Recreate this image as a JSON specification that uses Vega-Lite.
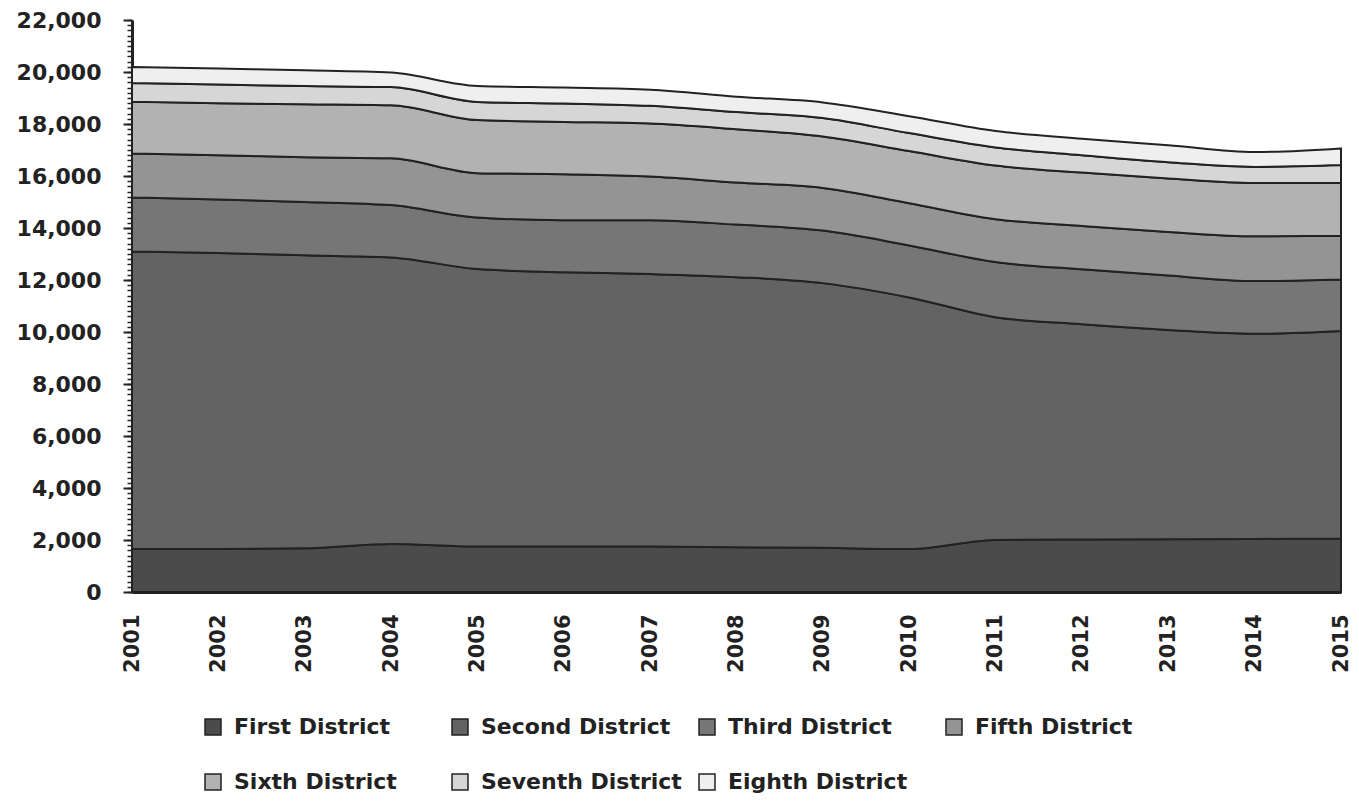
{
  "$schema": "https://vega.github.io/schema/vega-lite/v6.json",
  "width": 1209,
  "height": 572,
  "autosize": {"type": "none"},
  "padding": {"left": 132, "top": 20, "right": 18, "bottom": 209},
  "background": "white",
  "config": {
    "view": {"stroke": null},
    "font": "DejaVu Sans",
    "axis": {"labelFont": "DejaVu Sans", "labelFontWeight": "bold", "labelColor": "#222", "grid": false, "title": null},
    "legend": {
      "orient": "none", "legendX": 70, "legendY": 696, "direction": "horizontal", "columns": 4,
      "gridAlign": "all", "columnPadding": 14, "rowPadding": 33, "symbolType": "square", "symbolSize": 256,
      "labelFontSize": 22, "labelFont": "DejaVu Sans", "labelFontWeight": "bold", "labelColor": "#222",
      "symbolStrokeColor": "#222", "symbolStrokeWidth": 1.5, "symbolOpacity": 1, "labelOffset": 10, "labelLimit": 0
    }
  },
  "data": {"values": [
    {"year":"2001","district":"First District","k":1,"value":1650},
    {"year":"2002","district":"First District","k":1,"value":1650},
    {"year":"2003","district":"First District","k":1,"value":1680},
    {"year":"2004","district":"First District","k":1,"value":1850},
    {"year":"2005","district":"First District","k":1,"value":1750},
    {"year":"2006","district":"First District","k":1,"value":1750},
    {"year":"2007","district":"First District","k":1,"value":1750},
    {"year":"2008","district":"First District","k":1,"value":1720},
    {"year":"2009","district":"First District","k":1,"value":1700},
    {"year":"2010","district":"First District","k":1,"value":1650},
    {"year":"2011","district":"First District","k":1,"value":2000},
    {"year":"2012","district":"First District","k":1,"value":2020},
    {"year":"2013","district":"First District","k":1,"value":2030},
    {"year":"2014","district":"First District","k":1,"value":2040},
    {"year":"2015","district":"First District","k":1,"value":2060},
    {"year":"2001","district":"Second District","k":2,"value":11450},
    {"year":"2002","district":"Second District","k":2,"value":11390},
    {"year":"2003","district":"Second District","k":2,"value":11270},
    {"year":"2004","district":"Second District","k":2,"value":11020},
    {"year":"2005","district":"Second District","k":2,"value":10670},
    {"year":"2006","district":"Second District","k":2,"value":10550},
    {"year":"2007","district":"Second District","k":2,"value":10480},
    {"year":"2008","district":"Second District","k":2,"value":10390},
    {"year":"2009","district":"Second District","k":2,"value":10180},
    {"year":"2010","district":"Second District","k":2,"value":9680},
    {"year":"2011","district":"Second District","k":2,"value":8570},
    {"year":"2012","district":"Second District","k":2,"value":8280},
    {"year":"2013","district":"Second District","k":2,"value":8050},
    {"year":"2014","district":"Second District","k":2,"value":7890},
    {"year":"2015","district":"Second District","k":2,"value":7980},
    {"year":"2001","district":"Third District","k":3,"value":2070},
    {"year":"2002","district":"Third District","k":3,"value":2060},
    {"year":"2003","district":"Third District","k":3,"value":2050},
    {"year":"2004","district":"Third District","k":3,"value":2010},
    {"year":"2005","district":"Third District","k":3,"value":1980},
    {"year":"2006","district":"Third District","k":3,"value":2000},
    {"year":"2007","district":"Third District","k":3,"value":2070},
    {"year":"2008","district":"Third District","k":3,"value":2020},
    {"year":"2009","district":"Third District","k":3,"value":2020},
    {"year":"2010","district":"Third District","k":3,"value":2000},
    {"year":"2011","district":"Third District","k":3,"value":2120},
    {"year":"2012","district":"Third District","k":3,"value":2110},
    {"year":"2013","district":"Third District","k":3,"value":2090},
    {"year":"2014","district":"Third District","k":3,"value":2030},
    {"year":"2015","district":"Third District","k":3,"value":1980},
    {"year":"2001","district":"Fifth District","k":4,"value":1700},
    {"year":"2002","district":"Fifth District","k":4,"value":1700},
    {"year":"2003","district":"Fifth District","k":4,"value":1720},
    {"year":"2004","district":"Fifth District","k":4,"value":1800},
    {"year":"2005","district":"Fifth District","k":4,"value":1710},
    {"year":"2006","district":"Fifth District","k":4,"value":1770},
    {"year":"2007","district":"Fifth District","k":4,"value":1680},
    {"year":"2008","district":"Fifth District","k":4,"value":1620},
    {"year":"2009","district":"Fifth District","k":4,"value":1640},
    {"year":"2010","district":"Fifth District","k":4,"value":1620},
    {"year":"2011","district":"Fifth District","k":4,"value":1650},
    {"year":"2012","district":"Fifth District","k":4,"value":1670},
    {"year":"2013","district":"Fifth District","k":4,"value":1680},
    {"year":"2014","district":"Fifth District","k":4,"value":1720},
    {"year":"2015","district":"Fifth District","k":4,"value":1680},
    {"year":"2001","district":"Sixth District","k":5,"value":1990},
    {"year":"2002","district":"Sixth District","k":5,"value":2000},
    {"year":"2003","district":"Sixth District","k":5,"value":2040},
    {"year":"2004","district":"Sixth District","k":5,"value":2040},
    {"year":"2005","district":"Sixth District","k":5,"value":2040},
    {"year":"2006","district":"Sixth District","k":5,"value":2010},
    {"year":"2007","district":"Sixth District","k":5,"value":2040},
    {"year":"2008","district":"Sixth District","k":5,"value":2050},
    {"year":"2009","district":"Sixth District","k":5,"value":1980},
    {"year":"2010","district":"Sixth District","k":5,"value":2010},
    {"year":"2011","district":"Sixth District","k":5,"value":2060},
    {"year":"2012","district":"Sixth District","k":5,"value":2050},
    {"year":"2013","district":"Sixth District","k":5,"value":2050},
    {"year":"2014","district":"Sixth District","k":5,"value":2050},
    {"year":"2015","district":"Sixth District","k":5,"value":2040},
    {"year":"2001","district":"Seventh District","k":6,"value":720},
    {"year":"2002","district":"Seventh District","k":6,"value":720},
    {"year":"2003","district":"Seventh District","k":6,"value":700},
    {"year":"2004","district":"Seventh District","k":6,"value":700},
    {"year":"2005","district":"Seventh District","k":6,"value":700},
    {"year":"2006","district":"Seventh District","k":6,"value":710},
    {"year":"2007","district":"Seventh District","k":6,"value":680},
    {"year":"2008","district":"Seventh District","k":6,"value":660},
    {"year":"2009","district":"Seventh District","k":6,"value":710},
    {"year":"2010","district":"Seventh District","k":6,"value":690},
    {"year":"2011","district":"Seventh District","k":6,"value":700},
    {"year":"2012","district":"Seventh District","k":6,"value":670},
    {"year":"2013","district":"Seventh District","k":6,"value":630},
    {"year":"2014","district":"Seventh District","k":6,"value":620},
    {"year":"2015","district":"Seventh District","k":6,"value":680},
    {"year":"2001","district":"Eighth District","k":7,"value":610},
    {"year":"2002","district":"Eighth District","k":7,"value":610},
    {"year":"2003","district":"Eighth District","k":7,"value":610},
    {"year":"2004","district":"Eighth District","k":7,"value":560},
    {"year":"2005","district":"Eighth District","k":7,"value":610},
    {"year":"2006","district":"Eighth District","k":7,"value":610},
    {"year":"2007","district":"Eighth District","k":7,"value":620},
    {"year":"2008","district":"Eighth District","k":7,"value":590},
    {"year":"2009","district":"Eighth District","k":7,"value":600},
    {"year":"2010","district":"Eighth District","k":7,"value":650},
    {"year":"2011","district":"Eighth District","k":7,"value":630},
    {"year":"2012","district":"Eighth District","k":7,"value":630},
    {"year":"2013","district":"Eighth District","k":7,"value":650},
    {"year":"2014","district":"Eighth District","k":7,"value":570},
    {"year":"2015","district":"Eighth District","k":7,"value":640}
  ]},
  "resolve": {"axis": {"y": "independent"}},
  "layer": [
    {
      "mark": {"type": "area", "interpolate": "monotone", "stroke": "#222", "strokeWidth": 2, "opacity": 1},
      "encoding": {
        "x": {"field": "year", "type": "ordinal", "scale": {"type": "point", "padding": 0},
          "axis": {"labelAngle": -90, "labelFontSize": 21, "ticks": true, "tickSize": 0, "tickOpacity": 0, "labelPadding": 22, "domainColor": "#222", "domainWidth": 3, "labelBaseline": "middle", "labelAlign": "right"}},
        "y": {"field": "value", "type": "quantitative", "stack": "zero", "scale": {"domain": [0, 22000], "nice": false},
          "axis": {"orient": "left", "values": [0,2000,4000,6000,8000,10000,12000,14000,16000,18000,20000,22000], "format": ",d", "labelFontSize": 22, "tickSize": 9, "tickWidth": 2, "tickColor": "#222", "labelPadding": 22, "domainColor": "#222", "domainWidth": 3}},
        "color": {"field": "district", "type": "nominal",
          "sort": ["First District","Second District","Third District","Fifth District","Sixth District","Seventh District","Eighth District"],
          "scale": {"domain": ["First District","Second District","Third District","Fifth District","Sixth District","Seventh District","Eighth District"],
            "range": ["#4b4b4b","#636363","#767676","#949494","#b2b2b2","#d6d6d6","#efefef"]},
          "legend": {"title": null}},
        "order": {"field": "k", "type": "quantitative", "sort": "ascending"}
      }
    },
    {
      "mark": {"type": "point", "opacity": 0},
      "encoding": {
        "y": {"field": "value", "type": "quantitative", "scale": {"domain": [0, 22000], "nice": false},
          "axis": {"orient": "left", "tickCount": 110, "labels": false, "domain": false, "tickSize": 5, "tickWidth": 1.5, "tickColor": "#222"}}
      }
    }
  ]
}
